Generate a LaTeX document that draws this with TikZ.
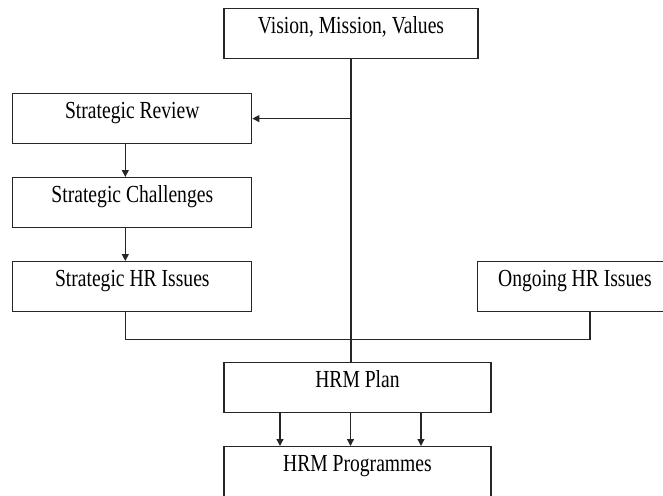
\documentclass[tikz,border=0pt]{standalone}
\usepackage{fontspec}
\setmainfont{Liberation Serif}[FakeStretch=0.8]
\usetikzlibrary{arrows.meta}
\begin{document}
\begin{tikzpicture}[x=1pt,y=-1pt,
  boxnode/.style={draw=black!85, line width=1.2pt, rectangle, inner xsep=0pt, inner ysep=0pt,
    text height=25pt, text depth=25pt, anchor=north, font=\fontsize{24.5}{26}\selectfont},
  conn/.style={draw=black!85, line width=1.2pt},
  arr/.style={conn, -{Triangle[length=7pt,width=7pt]}}]
\useasboundingbox (0,0) rectangle (663,495);
\node[boxnode, minimum width=254pt] (vmv) at (351,8) {Vision, Mission, Values};
\node[boxnode, minimum width=239pt] (sr) at (132.3,93) {Strategic Review};
\node[boxnode, minimum width=239pt] (sc) at (132.3,177) {Strategic Challenges};
\node[boxnode, minimum width=239pt] (shr) at (132.3,261) {Strategic HR Issues};
\node[boxnode, minimum width=195pt] (ohr) at (575,261) {Ongoing HR Issues};
\node[boxnode, minimum width=267pt] (plan) at (357.5,362) {HRM Plan};
\node[boxnode, minimum width=267pt] (prog) at (357.5,446) {HRM Programmes};
% main vertical line
\draw[conn] (vmv.south) -- (vmv.south |- plan.north);
\draw[arr] (vmv.south |- sr.east) -- (sr.east);
\draw[arr] ([xshift=-7pt]sr.south) -- ([xshift=-7pt]sc.north);
\draw[arr] ([xshift=-7pt]sc.south) -- ([xshift=-7pt]shr.north);
\draw[conn] ([xshift=-7pt]shr.south) -- ++(0,27) -| ([xshift=15pt]ohr.south);
\draw[arr] ([xshift=-77.5pt]plan.south) -- ([xshift=-77.5pt]prog.north);
\draw[arr] ([xshift=-7pt]plan.south) -- ([xshift=-7pt]prog.north);
\draw[arr] ([xshift=63.5pt]plan.south) -- ([xshift=63.5pt]prog.north);
\end{tikzpicture}
\end{document}
